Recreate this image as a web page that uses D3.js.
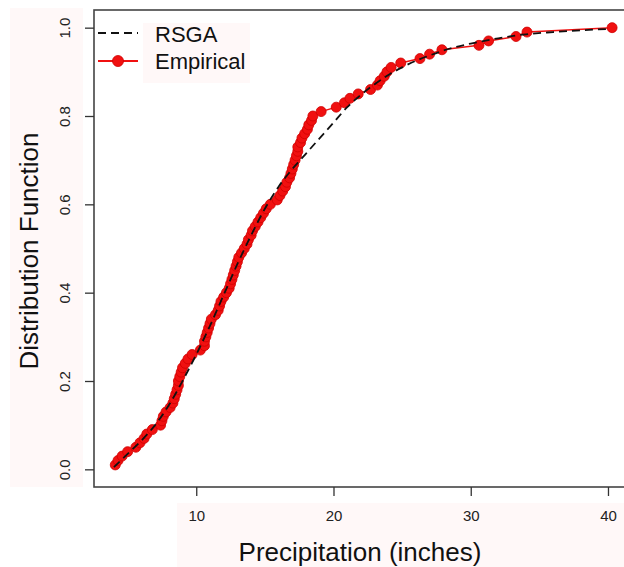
<!DOCTYPE html>
<html>
<head>
<meta charset="utf-8">
<script src="https://cdn.jsdelivr.net/npm/d3@7"></script>
<style>
  body { margin: 0; background: #fff; }
  svg { display: block; font-family: "Liberation Sans", Arial, sans-serif; }
</style>
</head>
<body>
<script>
// sorted annual precipitation sample (inches)
const precip = [
  4.1, 4.3, 4.6, 5.0, 5.6, 5.9, 6.2, 6.4, 6.8, 7.4,
  7.5, 7.6, 7.8, 8.1, 8.3, 8.4, 8.5, 8.6, 8.7, 8.7,
  8.8, 8.9, 9.0, 9.2, 9.4, 9.7, 10.3, 10.6, 10.6, 10.7,
  10.8, 10.9, 11.0, 11.1, 11.4, 11.6, 11.7, 11.8, 12.0, 12.2,
  12.4, 12.5, 12.6, 12.7, 12.8, 12.9, 13.0, 13.1, 13.3, 13.5,
  13.7, 13.8, 14.0, 14.1, 14.3, 14.5, 14.7, 14.9, 15.1, 15.4,
  15.9, 16.1, 16.3, 16.5, 16.6, 16.8, 16.9, 17.0, 17.1, 17.2,
  17.3, 17.4, 17.4, 17.6, 17.7, 17.9, 18.1, 18.2, 18.4, 18.5,
  19.1, 20.2, 20.8, 21.2, 21.8, 22.7, 23.2, 23.4, 23.7, 23.9,
  24.2, 24.9, 26.3, 27.0, 27.9, 30.6, 31.3, 33.3, 34.1, 40.3
]

// fitted RSGA distribution function
const rsgaX = [4, 5, 6, 7, 8, 9, 10, 11, 12, 13, 14, 15, 16, 17, 18, 19, 20,
  21, 22, 23, 24, 25, 26, 27, 28, 30, 32, 34, 36, 38, 40]
const rsgaF = [0.005, 0.035, 0.065, 0.10, 0.145, 0.20, 0.26, 0.325, 0.395, 0.465,
  0.53, 0.59, 0.64, 0.68, 0.715, 0.75, 0.785, 0.82, 0.848, 0.872, 0.893, 0.91,
  0.925, 0.937, 0.948, 0.964, 0.976, 0.985, 0.99, 0.994, 0.997]

const xTicks = [10, 20, 30, 40]
const yTicks = [0, 0.2, 0.4, 0.6, 0.8, 1.0]
const legendLabels = ['RSGA', 'Empirical']

const W = 624
const H = 567
const RED = '#f01010'

const svg = d3.select('body').append('svg')
  .attr('width', W)
  .attr('height', H)

// R-style 4% padded plot region (right edge falls outside the picture)
const x = d3.scaleLinear().domain([2.55, 41.75]).range([94, 632])
const y = d3.scaleLinear().domain([-0.04, 1.04]).range([487, 10])

// faint pink label backgrounds
const bg = svg.append('g').attr('fill', '#fff8f8')
bg.append('rect').attr('x', 10).attr('y', 8).attr('width', 73).attr('height', 479)
bg.append('rect').attr('x', 177).attr('y', 503).attr('width', W - 177).attr('height', H - 503)
bg.append('rect').attr('x', 143).attr('y', 23).attr('width', 107).attr('height', 60)

// empirical CDF
const emp = precip.map((v, i) => ({ x: v, f: (i + 1) / precip.length }))
const empLine = d3.line().x(d => x(d.x)).y(d => y(d.f))

svg.append('path')
  .datum(emp)
  .attr('d', empLine)
  .attr('fill', 'none')
  .attr('stroke', RED)
  .attr('stroke-width', 1.5)

svg.append('g').selectAll('circle')
  .data(emp)
  .join('circle')
  .attr('cx', d => x(d.x))
  .attr('cy', d => y(d.f))
  .attr('r', 5)
  .attr('fill', RED)
  .attr('stroke', '#d00000')
  .attr('stroke-width', 0.8)

// RSGA dashed curve drawn on top
const rsga = rsgaX.map((v, i) => ({ x: v, f: rsgaF[i] }))
svg.append('path')
  .datum(rsga)
  .attr('d', d3.line().x(d => x(d.x)).y(d => y(d.f)).curve(d3.curveMonotoneX))
  .attr('fill', 'none')
  .attr('stroke', '#111')
  .attr('stroke-width', 1.8)
  .attr('stroke-dasharray', '8,5')

// box
svg.append('rect')
  .attr('x', x.range()[0])
  .attr('y', y.range()[1])
  .attr('width', x.range()[1] - x.range()[0])
  .attr('height', y.range()[0] - y.range()[1])
  .attr('fill', 'none')
  .attr('stroke', '#444')
  .attr('stroke-width', 1.6)

// axes
const xAxis = svg.append('g')
  .attr('transform', `translate(0, ${y.range()[0]})`)
  .call(d3.axisBottom(x).tickValues(xTicks).tickSize(9).tickSizeOuter(0))
xAxis.select('.domain').remove()
xAxis.selectAll('line').attr('stroke', '#333').attr('stroke-width', 1.3)
xAxis.selectAll('text')
  .attr('y', 34)
  .attr('dy', 0)
  .attr('fill', '#222')
  .style('font-size', '15px')
  .style('font-family', '"Liberation Sans", Arial, sans-serif')

const yAxis = svg.append('g')
  .attr('transform', `translate(${x.range()[0]}, 0)`)
  .call(d3.axisLeft(y).tickValues(yTicks).tickFormat(d3.format('.1f')).tickSize(9).tickSizeOuter(0))
yAxis.select('.domain').remove()
yAxis.selectAll('line').attr('stroke', '#333').attr('stroke-width', 1.3)
yAxis.selectAll('text')
  .attr('transform', 'rotate(-90)')
  .attr('x', 0)
  .attr('y', -24)
  .attr('dy', 0)
  .attr('text-anchor', 'middle')
  .attr('fill', '#222')
  .style('font-size', '15px')
  .style('font-family', '"Liberation Sans", Arial, sans-serif')

// axis titles
svg.append('text')
  .attr('x', 360)
  .attr('y', 561)
  .attr('text-anchor', 'middle')
  .attr('font-size', 26)
  .attr('fill', '#111')
  .text('Precipitation (inches)')

svg.append('text')
  .attr('transform', 'translate(38, 251) rotate(-90)')
  .attr('text-anchor', 'middle')
  .attr('font-size', 26)
  .attr('fill', '#111')
  .text('Distribution Function')

// legend
const legend = svg.append('g')
legend.append('line')
  .attr('x1', 98).attr('x2', 138).attr('y1', 33).attr('y2', 33)
  .attr('stroke', '#111').attr('stroke-width', 2).attr('stroke-dasharray', '8,5')
legend.append('line')
  .attr('x1', 98).attr('x2', 138).attr('y1', 61).attr('y2', 61)
  .attr('stroke', RED).attr('stroke-width', 1.8)
legend.append('circle')
  .attr('cx', 118).attr('cy', 61).attr('r', 5.5)
  .attr('fill', RED).attr('stroke', '#d00000').attr('stroke-width', 0.8)
legend.selectAll('text')
  .data(legendLabels)
  .join('text')
  .attr('x', 155)
  .attr('y', (d, i) => 42 + i * 27)
  .attr('font-size', 22)
  .attr('fill', '#111')
  .text(d => d)
</script>
</body>
</html>
